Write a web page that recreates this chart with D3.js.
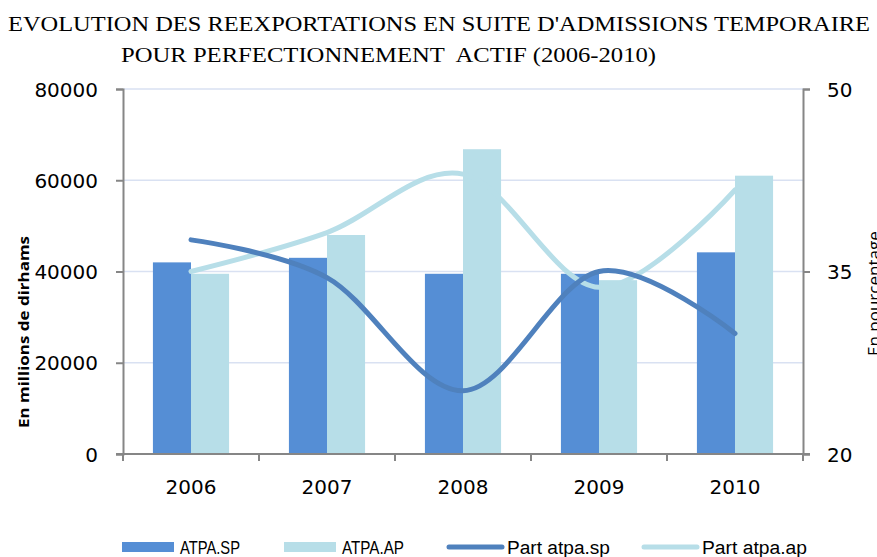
<!DOCTYPE html>
<html>
<head>
<meta charset="utf-8">
<script src="https://cdn.jsdelivr.net/npm/d3@7"></script>
<style>
  body { margin: 0; background: #fff; }
  svg { display: block; }
</style>
</head>
<body>
<div class="viz"></div>
<script>
// data
const years = ['2006', '2007', '2008', '2009', '2010']
const atpaSP = [42000, 43000, 39500, 39500, 44200]
const atpaAP = [39500, 48000, 66800, 38100, 61000]
const partSP = [37.6, 34.5, 25.2, 35.0, 29.9]
const partAP = [35.0, 38.2, 43.0, 33.7, 41.7]
const leftTicks = [0, 20000, 40000, 60000, 80000]
const rightTicks = [20, 35, 50]

const width = 877
const height = 557
const plot = { left: 123, right: 803, top: 89, bottom: 454 }

const colSP = '#558ed5'
const colAP = '#b7dee8'
const colLineSP = '#4f81bd'
const colLineAP = '#b7dee8'
const axisCol = '#868686'
const gridCol = '#d9e1f2'

const svg = d3.select('.viz')
  .append('svg')
    .attr('width', width)
    .attr('height', height)

// scales
const x0 = d3.scaleBand().domain(years).range([plot.left, plot.right])
const groupW = x0.bandwidth() * 0.56
const x1 = d3.scaleBand().domain(['sp', 'ap'])
  .range([(x0.bandwidth() - groupW) / 2, (x0.bandwidth() + groupW) / 2])
const y = d3.scaleLinear().domain([0, 80000]).range([plot.bottom, plot.top])
const y2 = d3.scaleLinear().domain([20, 50]).range([plot.bottom, plot.top])

// gridlines
svg.append('g')
  .selectAll('line')
  .data(leftTicks.slice(1))
  .enter().append('line')
    .attr('x1', plot.left).attr('x2', plot.right)
    .attr('y1', d => y(d)).attr('y2', d => y(d))
    .attr('stroke', gridCol)
    .attr('stroke-width', 1.5)

// title
const title = svg.append('g')
  .attr('font-family', '"Liberation Serif", "Times New Roman", serif')
  .attr('font-size', 21)
  .attr('fill', '#000')
title.append('text')
  .attr('x', 8).attr('y', 31)
  .attr('textLength', 862).attr('lengthAdjust', 'spacingAndGlyphs')
  .text("EVOLUTION DES REEXPORTATIONS EN SUITE D'ADMISSIONS TEMPORAIRE")
title.append('text')
  .attr('x', 121).attr('y', 62)
  .attr('textLength', 535).attr('lengthAdjust', 'spacingAndGlyphs')
  .attr('xml:space', 'preserve')
  .text('POUR PERFECTIONNEMENT  ACTIF (2006-2010)')

// bars
const groups = svg.append('g')
  .selectAll('g')
  .data(years.map((yr, i) => ({ yr, vals: [{ k: 'sp', v: atpaSP[i] }, { k: 'ap', v: atpaAP[i] }] })))
  .enter().append('g')
    .attr('transform', d => `translate(${x0(d.yr)},0)`)

groups.selectAll('rect')
  .data(d => d.vals)
  .enter().append('rect')
    .attr('x', d => x1(d.k))
    .attr('width', x1.bandwidth())
    .attr('y', d => y(d.v))
    .attr('height', d => y(0) - y(d.v))
    .attr('fill', d => d.k === 'sp' ? colSP : colAP)

// axes
const axisStyle = g => {
  g.selectAll('path, line').attr('stroke', axisCol).attr('stroke-width', 2)
  g.selectAll('text')
    .attr('font-family', '"DejaVu Sans", sans-serif')
    .attr('font-size', 20)
    .attr('fill', '#000')
}

svg.append('g')
  .attr('transform', `translate(${plot.left},0)`)
  .call(d3.axisLeft(y).tickValues(leftTicks).tickFormat(d3.format('d')).tickSizeOuter(0).tickSize(7).tickPadding(18))
  .call(axisStyle)
  .call(g => g.selectAll('text').attr('dy', '0.35em'))

svg.append('g')
  .attr('transform', `translate(${plot.right},0)`)
  .call(d3.axisRight(y2).tickValues(rightTicks).tickSizeOuter(0).tickSize(7).tickPadding(17))
  .call(axisStyle)
  .call(g => g.selectAll('text').attr('dy', '0.35em'))

// category axis with ticks between groups
svg.append('g')
  .attr('transform', `translate(0,${plot.bottom})`)
  .call(g => {
    g.append('line')
      .attr('x1', plot.left - 7).attr('x2', plot.right + 7)
      .attr('stroke', axisCol).attr('stroke-width', 2)
    g.selectAll('.tk')
      .data(years.concat(['end']))
      .enter().append('line')
        .attr('x1', d => d === 'end' ? plot.right : x0(d))
        .attr('x2', d => d === 'end' ? plot.right : x0(d))
        .attr('y1', 0).attr('y2', 7)
        .attr('stroke', axisCol).attr('stroke-width', 2)
    g.selectAll('text')
      .data(years)
      .enter().append('text')
        .attr('x', d => x0(d) + x0.bandwidth() / 2)
        .attr('y', 40)
        .attr('text-anchor', 'middle')
        .attr('font-family', '"DejaVu Sans", sans-serif')
        .attr('font-size', 20)
        .text(d => d)
  })

// smoothed lines on secondary axis
const line = d3.line()
  .x((d, i) => x0(years[i]) + x0.bandwidth() / 2)
  .y(d => y2(d))
  .curve(d3.curveCardinal)

svg.append('path')
  .attr('d', line(partAP))
  .attr('fill', 'none')
  .attr('stroke', colLineAP)
  .attr('stroke-width', 5)
  .attr('stroke-linecap', 'round')

svg.append('path')
  .attr('d', line(partSP))
  .attr('fill', 'none')
  .attr('stroke', colLineSP)
  .attr('stroke-width', 5)
  .attr('stroke-linecap', 'round')

// axis titles
svg.append('text')
  .attr('transform', 'translate(29,332) rotate(-90)')
  .attr('text-anchor', 'middle')
  .attr('font-family', '"Open Sans", sans-serif')
  .attr('font-weight', 'bold')
  .attr('font-size', 15)
  .attr('textLength', 192).attr('lengthAdjust', 'spacingAndGlyphs')
  .text('En millions de dirhams')

// right title sits half outside the frame, as in the source
svg.append('text')
  .attr('transform', 'translate(880,356) rotate(-90)')
  .attr('text-anchor', 'start')
  .attr('font-family', '"Open Sans", sans-serif')
  .attr('font-size', 17)
  .text('En pourcentage')

// legend
const legendItems = [
  { name: 'ATPA.SP', type: 'bar', color: colSP, x: 122, tw: 60 },
  { name: 'ATPA.AP', type: 'bar', color: colAP, x: 284, tw: 62 },
  { name: 'Part atpa.sp', type: 'line', color: colLineSP, x: 447, tw: 103 },
  { name: 'Part atpa.ap', type: 'line', color: colLineAP, x: 642, tw: 105 }
]
const legend = svg.append('g')
  .selectAll('g')
  .data(legendItems)
  .enter().append('g')
    .attr('transform', d => `translate(${d.x},547)`)

legend.filter(d => d.type === 'bar').append('rect')
  .attr('x', 0).attr('y', -5)
  .attr('width', 52).attr('height', 10)
  .attr('fill', d => d.color)

legend.filter(d => d.type === 'line').append('line')
  .attr('x1', 2).attr('x2', 55)
  .attr('stroke', d => d.color)
  .attr('stroke-width', 5)
  .attr('stroke-linecap', 'round')

legend.append('text')
  .attr('x', d => d.type === 'bar' ? 58 : 60)
  .attr('y', 7)
  .attr('font-family', '"Liberation Sans", sans-serif')
  .attr('font-size', 18)
  .attr('textLength', d => d.tw)
  .attr('lengthAdjust', 'spacingAndGlyphs')
  .text(d => d.name)
</script>
</body>
</html>
